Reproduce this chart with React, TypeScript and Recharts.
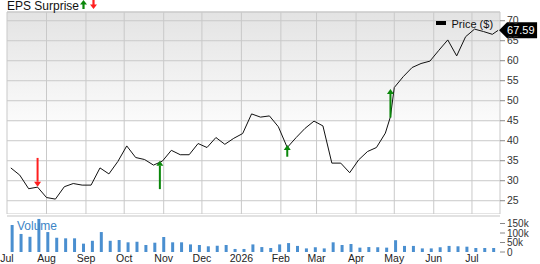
import {
  ComposedChart,
  BarChart,
  Bar,
  Line,
  Scatter,
  XAxis,
  YAxis,
  CartesianGrid,
  ReferenceLine,
  ReferenceDot,
} from 'recharts'

// days counted from Jul 1 2025
const monthTicks = [0, 31, 62, 92, 123, 153, 184, 215, 243, 274, 304, 335, 365]
const monthLabels = ['Jul', 'Aug', 'Sep', 'Oct', 'Nov', 'Dec', '2026', 'Feb', 'Mar', 'Apr', 'May', 'Jun', 'Jul']

const priceDays = [
  3, 10, 17, 24, 31, 38, 45, 52, 59, 66, 73, 80, 87, 94, 101, 108, 115, 122, 129, 136,
  143, 150, 157, 164, 171, 178, 185, 192, 199, 206, 213, 220, 227, 234, 241, 248, 255, 262,
  269, 276, 283, 290, 297, 301, 304, 311, 318, 325, 332, 339, 346, 353, 360, 367, 374, 381, 385.5,
]
const prices = [
  33.2, 31.4, 28.0, 28.4, 25.8, 25.4, 28.5, 29.3, 28.9, 28.9, 33.2, 31.7, 34.8, 38.7, 35.8, 35.3,
  33.9, 34.9, 37.6, 36.5, 36.5, 39.3, 38.3, 40.8, 39.1, 40.6, 41.8, 46.7, 45.9, 46.2, 43.5, 38.3,
  40.8, 43.1, 44.9, 43.7, 34.4, 34.4, 32.0, 35.2, 37.3, 38.3, 41.9, 46.0, 53.3, 56.0, 58.3, 59.3,
  59.9, 62.6, 65.2, 61.2, 66.0, 67.9, 67.3, 66.6, 67.59,
]
const priceTicks = [25, 30, 35, 40, 45, 50, 55, 60, 65, 70]
const lastPrice = 67.59

const volumeDays = [
  4, 11, 18, 25, 32, 39, 46, 53, 60, 67, 74, 81, 88, 95, 102, 109, 116, 123, 130, 137, 144,
  151, 158, 165, 172, 179, 186, 193, 200, 207, 214, 221, 228, 235, 242, 249, 256, 263, 270,
  277, 284, 291, 298, 305, 312, 319, 326, 333, 340, 347, 354, 361, 368, 375, 382,
]
const volumesK = [
  142, 95, 80, 174, 105, 75, 72, 72, 44, 59, 105, 59, 63, 51, 54, 37, 49, 79, 51, 51, 40, 37, 30,
  33, 37, 16, 16, 40, 26, 21, 40, 47, 32, 19, 25, 19, 51, 37, 42, 23, 26, 25, 23, 62, 32, 32, 19,
  19, 25, 32, 30, 28, 21, 21, 21,
]
const volumeTicks = [0, 50000, 100000, 150000]

// earnings surprises: tip of arrow, base of head, tail of shaft
const events = [
  { day: 24, price: 28.5, neck: 29.75, tail: 35.7, dir: 'down' },
  { day: 120, price: 35.0, neck: 33.75, tail: 27.9, dir: 'up' },
  { day: 220, price: 38.9, neck: 37.85, tail: 36.0, dir: 'up' },
  { day: 301, price: 52.9, neck: 51.85, tail: 45.8, dir: 'up' },
]

const priceData = priceDays.map((day, i) => ({ day, price: prices[i] }))
const volumeData = volumeDays.map((day, i) => ({ day, vol: volumesK[i] * 1000 }))

const FONT = '"Liberation Sans", Arial, sans-serif'
const GRID = '#c9c9c9'
const UP = '#0a870a'
const DOWN = '#ff1f1f'
const VOL = '#4a8fd0'

function ArrowHead(props: any) {
  const { cx, cy, payload } = props
  const up = payload.dir === 'up'
  const h = up ? 5 : -5
  const d = `M${cx},${cy} L${cx + 3.5},${cy + h} L${cx - 3.5},${cy + h} Z`
  return <path d={d} fill={up ? UP : DOWN} />
}

function PriceTag(props: any) {
  const { cx, cy } = props
  const x = cx + 1
  return (
    <g>
      <path
        d={`M${x},${cy} L${x + 8},${cy - 8} L${x + 38},${cy - 8} L${x + 38},${cy + 8} L${x + 8},${cy + 8} Z`}
        fill="#000"
      />
      <text x={x + 8} y={cy + 4} fontSize={11} fill="#fff">
        {lastPrice.toFixed(2)}
      </text>
    </g>
  )
}

export default function App() {
  return (
    <div style={{ position: 'absolute', left: 0, top: 0, width: 540, height: 264, fontFamily: FONT, background: '#fff' }}>
      <div style={{ position: 'absolute', left: 0, top: 214 }}>
        <BarChart width={540} height={50} data={volumeData} margin={{ top: 2, right: 0, left: 7, bottom: 0 }}>
          <XAxis
            dataKey="day"
            type="number"
            domain={[0, 387]}
            ticks={monthTicks}
            tickFormatter={(v: number) => monthLabels[monthTicks.indexOf(v)]}
            interval={0}
            axisLine={false}
            tickLine={false}
            tickSize={0}
            tickMargin={3}
            height={12}
            tick={{ fontSize: 10.5, fill: '#222' }}
            allowDataOverflow
          />
          <YAxis
            orientation="right"
            width={40}
            domain={[0, 189500]}
            ticks={volumeTicks}
            interval={0}
            tickFormatter={(v: number) => (v === 0 ? '0' : `${v / 1000}k`)}
            axisLine={false}
            tickLine={{ stroke: '#888' }}
            tickSize={5}
            tickMargin={2}
            tick={{ fontSize: 10, fill: '#333' }}
            allowDataOverflow
          />
          <ReferenceLine y={189500} stroke="#e2e2e2" strokeWidth={2} />
          <Bar dataKey="vol" fill={VOL} barSize={3} isAnimationActive={false} />
        </BarChart>
      </div>

      <div style={{ position: 'absolute', left: 0, top: 0 }}>
        <ComposedChart width={540} height={214} margin={{ top: 12, right: 0, left: 7, bottom: 0 }}>
          <defs>
            <linearGradient id="priceBg" x1="0" y1="0" x2="0" y2="1">
              <stop offset="0" stopColor="#e3e3e3" />
              <stop offset="0.54" stopColor="#fbfbfb" />
              <stop offset="0.545" stopColor="#ffffff" />
              <stop offset="1" stopColor="#ffffff" />
            </linearGradient>
          </defs>
          <CartesianGrid stroke={GRID} fill="url(#priceBg)" fillOpacity={1} />
          <XAxis dataKey="day" type="number" domain={[0, 387]} ticks={monthTicks} hide allowDataOverflow />
          <YAxis
            orientation="right"
            width={40}
            domain={[21.68, 72.18]}
            ticks={priceTicks}
            interval={0}
            axisLine={false}
            tickLine={{ stroke: '#888' }}
            tickSize={5}
            tickMargin={2}
            tick={{ fontSize: 10.5, fill: '#333' }}
            allowDataOverflow
          />
          <ReferenceLine y={72.18} stroke={GRID} />
          <Line
            data={priceData}
            dataKey="price"
            type="linear"
            stroke="#111"
            strokeWidth={1}
            dot={false}
            isAnimationActive={false}
          />
          {events.map((e) => (
            <ReferenceLine
              key={e.day}
              segment={[
                { x: e.day, y: e.tail },
                { x: e.day, y: e.neck },
              ]}
              stroke={e.dir === 'up' ? UP : DOWN}
              strokeWidth={2}
            />
          ))}
          <Scatter data={events} dataKey="price" shape={ArrowHead} isAnimationActive={false} />
          <ReferenceDot x={385.5} y={lastPrice} shape={PriceTag} />
        </ComposedChart>
      </div>

      <div style={{ position: 'absolute', left: 7, top: 0, fontSize: 12, lineHeight: '12px', color: '#111', whiteSpace: 'nowrap' }}>
        EPS Surprise
        <svg width={20} height={10} style={{ verticalAlign: 'top', marginLeft: 1 }}>
          <path d="M3.5,0 L7,4.5 L4.6,4.5 L4.6,9 L2.4,9 L2.4,4.5 L0,4.5 Z" fill={UP} />
          <path d="M13.5,9 L17,4.5 L14.6,4.5 L14.6,0 L12.4,0 L12.4,4.5 L10,4.5 Z" fill={DOWN} />
        </svg>
      </div>

      <div style={{ position: 'absolute', left: 436, top: 20.5, width: 10, height: 4, background: '#000' }} />
      <div style={{ position: 'absolute', left: 451.5, top: 19.3, fontSize: 11, lineHeight: '11px', color: '#111', whiteSpace: 'nowrap' }}>
        Price ($)
      </div>

      <div style={{ position: 'absolute', left: 17, top: 220, fontSize: 12, lineHeight: '12px', color: '#3d85c6', whiteSpace: 'nowrap' }}>
        Volume
      </div>
    </div>
  )
}
